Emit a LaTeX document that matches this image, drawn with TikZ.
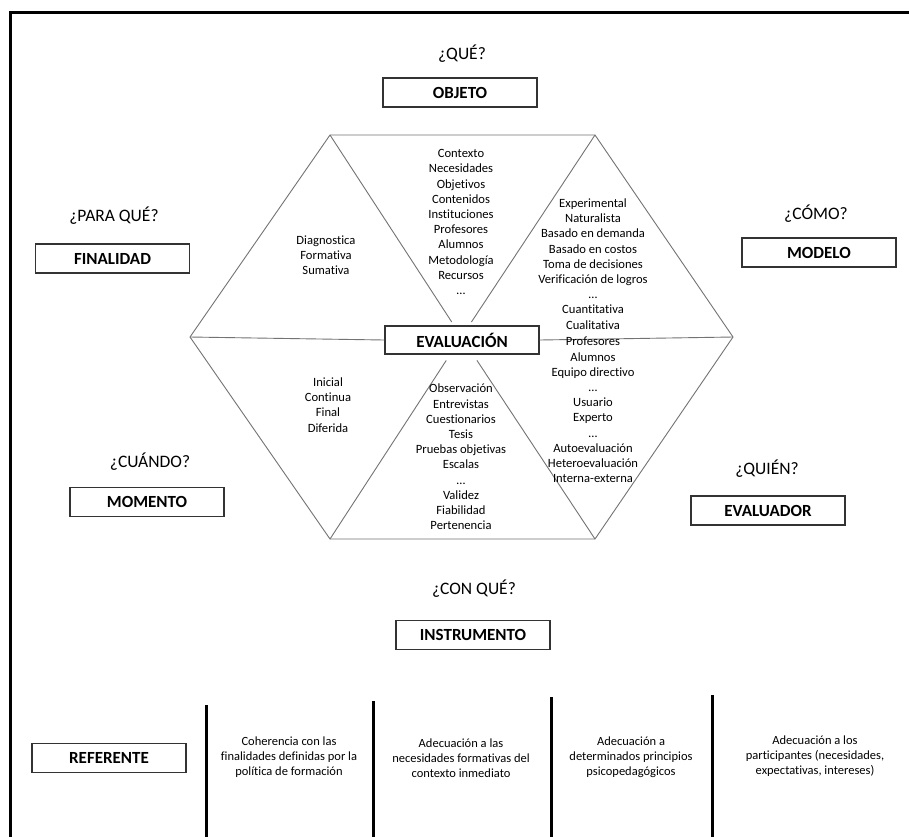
\documentclass[tikz,border=0pt]{standalone}
\usepackage{fontspec}
\setmainfont[Ligatures=NoCommon]{Carlito}
\begin{document}
\begin{tikzpicture}[x=1pt,y=-1pt,
  hexline/.style={draw=black!55,line width=0.9pt},
  lbox/.style={draw=black!80,line width=1.1pt,fill=white,minimum width=154pt,minimum height=29pt,inner sep=0pt,font=\fontsize{17}{19}\selectfont\bfseries},
  ques/.style={font=\fontsize{17.5}{20}\selectfont,inner sep=0pt},
  hextext/.style={align=center,font=\fontsize{12.6}{15.2}\selectfont,inner sep=0pt},
  reftext/.style={align=center,font=\fontsize{12.5}{15.2}\selectfont,inner sep=0pt},
  thick bar/.style={line width=3pt,draw=black}]
\useasboundingbox[fill=white] (0,0) rectangle (909,836);
% frame
\draw[thick bar] (909,12) -- (10,12) -- (10,837);
% hexagon
\coordinate (hl) at (190,337);
\coordinate (htl) at (330,135);
\coordinate (htr) at (595,135);
\coordinate (hr) at (733,337);
\coordinate (hbr) at (595,539);
\coordinate (hbl) at (330,539);
\coordinate (c) at (461.5,337);
\draw[hexline] (hl) -- (htl) -- (htr) -- (hr);
\draw[hexline] (hr) -- (hbr) -- (hbl) -- (hl);
\draw[hexline,shorten >=18pt] (htl) -- (c);
\draw[hexline,shorten >=18pt] (htr) -- (c);
\draw[hexline,shorten >=28pt] (hbl) -- (c);
\draw[hexline,shorten >=28pt] (hbr) -- (c);
\node[lbox,minimum height=28pt] (eval) at (462,340) {EVALUACIÓN};
\draw[hexline] (hl) -- (eval.west);
\draw[hexline] (eval.east) -- (hr);
% hexagon texts
\node[hextext] (tl) at (326,255) {Diagnostica\\Formativa\\Sumativa};
\node[hextext] (tm) at (461,222) {Contexto\\Necesidades\\Objetivos\\Contenidos\\Instituciones\\Profesores\\Alumnos\\Metodología\\Recursos\\…};
\node[hextext] (tr) at (593,264) {Experimental\\Naturalista\\Basado en demanda\\Basado en costos\\Toma de decisiones\\Verificación de logros\\…\\Cuantitativa\\Cualitativa};
\node[hextext] (br) at (593,410) {Profesores\\Alumnos\\Equipo directivo\\…\\Usuario\\Experto\\…\\Autoevaluación\\Heteroevaluación\\Interna-externa};
\node[hextext] (bl) at (328,405) {Inicial\\Continua\\Final\\Diferida};
\node[hextext] (bm) at (461,457) {Observación\\Entrevistas\\Cuestionarios\\Tesis\\Pruebas objetivas\\Escalas\\…\\Validez\\Fiabilidad\\Pertenencia};
% questions and boxes
\node[ques] (q1) at (462,54) {¿QUÉ?};
\node[lbox] (objeto) at (460,92.5) {OBJETO};
\node[ques] (q2) at (114,216) {¿PARA QUÉ?};
\node[lbox] (finalidad) at (112.5,258.5) {FINALIDAD};
\node[ques] (q3) at (816,214) {¿CÓMO?};
\node[lbox] (modelo) at (819,252.5) {MODELO};
\node[ques] (q4) at (150,462) {¿CUÁNDO?};
\node[lbox] (momento) at (147,502) {MOMENTO};
\node[ques] (q5) at (767,469) {¿QUIÉN?};
\node[lbox] (evaluador) at (768,510.5) {EVALUADOR};
\node[ques] (q6) at (474,589) {¿CON QUÉ?};
\node[lbox] (instrumento) at (473,635) {INSTRUMENTO};
\node[lbox] (referente) at (109,758) {REFERENTE};
% bottom bars
\draw[thick bar] (206,705) -- (206,837);
\draw[thick bar] (373,701) -- (373,837);
\draw[thick bar] (551,697) -- (551,837);
\draw[thick bar] (712,695) -- (712,837);
% bottom texts
\node[reftext] (r1) at (289,757) {Coherencia con las\\finalidades definidas por la\\política de formación};
\node[reftext] (r2) at (461,758) {Adecuación a las\\necesidades formativas del\\contexto inmediato};
\node[reftext] (r3) at (631,757) {Adecuación a\\determinados principios\\psicopedagógicos};
\node[reftext] (r4) at (815,756) {Adecuación a los\\participantes (necesidades,\\expectativas, intereses)};
\end{tikzpicture}
\end{document}
